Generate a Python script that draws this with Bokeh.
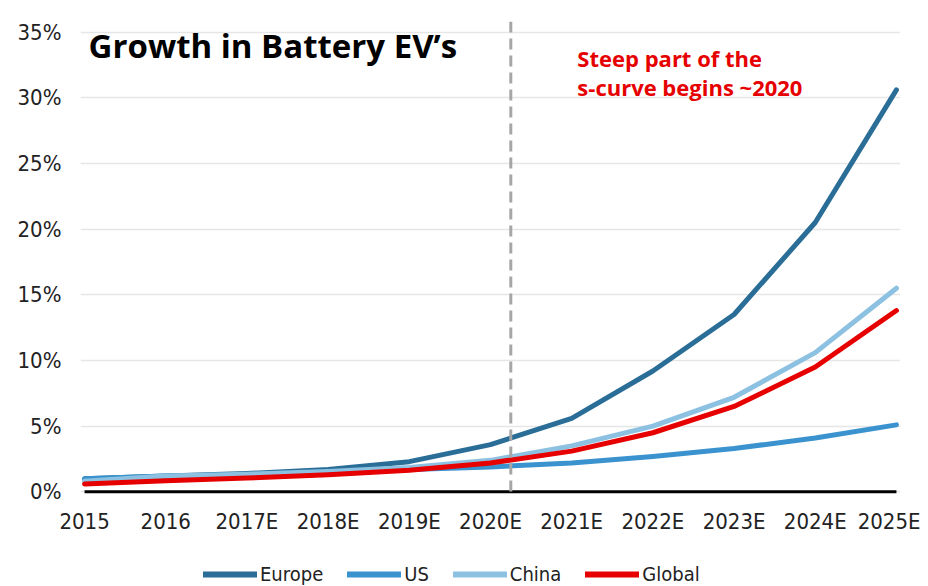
from bokeh.plotting import figure
from bokeh.layouts import column
from bokeh.models import (FixedTicker, Span, Legend, LegendItem, Label, Range1d)
from bokeh.embed import file_html
from bokeh.resources import INLINE

years = ["2015", "2016", "2017E", "2018E", "2019E", "2020E",
         "2021E", "2022E", "2023E", "2024E", "2025E"]
europe = [1.0, 1.2, 1.4, 1.7, 2.3, 3.6, 5.6, 9.2, 13.5, 20.5, 30.6]
us = [1.0, 1.2, 1.3, 1.5, 1.7, 1.9, 2.2, 2.7, 3.3, 4.1, 5.1]
china = [0.8, 1.2, 1.35, 1.55, 1.85, 2.4, 3.5, 5.0, 7.2, 10.6, 15.5]
global_ = [0.6, 0.85, 1.05, 1.3, 1.65, 2.2, 3.1, 4.5, 6.5, 9.5, 13.8]
y_ticks = [0, 5, 10, 15, 20, 25, 30, 35]

FONT = "Open Sans"
NARROW = "DejaVu Sans Condensed"
x = list(range(len(years)))

p = figure(width=920, height=545, output_backend="svg", toolbar_location=None,
           x_range=Range1d(-0.05, len(years) - 1 + 0.05),
           y_range=Range1d(-0.2, 35.8),
           min_border_left=80, min_border_right=20, min_border_top=21,
           min_border_bottom=51)
p.outline_line_color = None
p.background_fill_color = "white"

# axes
p.xaxis.ticker = FixedTicker(ticks=x)
p.xaxis.major_label_overrides = {i: y for i, y in enumerate(years)}
p.yaxis.ticker = FixedTicker(ticks=y_ticks)
p.yaxis.major_label_overrides = {t: f"{t}%" for t in y_ticks}
for ax in (p.xaxis[0], p.yaxis[0]):
    ax.axis_line_color = None
    ax.major_tick_line_color = None
    ax.minor_tick_line_color = None
    ax.major_tick_out = 0
    ax.major_tick_in = 0
    ax.minor_tick_out = 0
    ax.major_label_text_font = NARROW
    ax.major_label_text_font_size = "22px"
    ax.major_label_text_color = "#222222"
p.xaxis.major_label_standoff = 14
p.yaxis.major_label_standoff = 19
p.xgrid.grid_line_color = None
p.ygrid.grid_line_color = "#E6E6E6"
p.ygrid.grid_line_width = 1.5

# zero line
p.segment(x0=0, x1=len(years) - 1, y0=0, y1=0, line_color="black", line_width=3)

# dashed marker between 2020E and 2021E
p.add_layout(Span(location=5.25, dimension="height", line_color="#A6A6A6",
                  line_width=3, line_dash="11 6"))

series = [("Europe", europe, "#2A6E98"), ("US", us, "#3A93CF"),
          ("China", china, "#8DC1E1"), ("Global", global_, "#E60000")]

# legend lives in a small strip under the chart (its own lines kept out of view)
lg = figure(width=920, height=41, output_backend="svg", toolbar_location=None,
            x_range=Range1d(0, 1), y_range=Range1d(100, 101),
            min_border_left=0, min_border_right=0, min_border_top=0,
            min_border_bottom=0)
lg.axis.visible = False
lg.grid.visible = False
lg.outline_line_color = None

items = []
for name, vals, col in series:
    p.line(x, vals, line_color=col, line_width=5, line_cap="round", line_join="round")
    proxy = lg.line(x, vals, line_color=col, line_width=6, line_cap="round")
    items.append(LegendItem(label=name, renderers=[proxy]))

legend = Legend(items=items, orientation="horizontal", location=(123, 0),
                label_text_font=NARROW, label_text_font_size="20px",
                label_text_color="#222222",
                glyph_width=54, glyph_height=24, spacing=24, label_standoff=3,
                border_line_color=None, background_fill_alpha=0,
                padding=0, margin=0)
lg.add_layout(legend, "center")

p.add_layout(Label(x=0.05, y=34.0, text="Growth in Battery EV\u2019s",
                   text_font=FONT, text_font_style="bold", text_font_size="33px",
                   text_color="black", text_baseline="alphabetic"))
p.add_layout(Label(x=6.07, y=33.0, text="Steep part of the",
                   text_font=FONT, text_font_style="bold", text_font_size="22px",
                   text_color="#E60000", text_baseline="alphabetic"))
p.add_layout(Label(x=6.07, y=30.85, text="s-curve begins ~2020",
                   text_font=FONT, text_font_style="bold", text_font_size="22px",
                   text_color="#E60000", text_baseline="alphabetic"))

layout = column(p, lg, spacing=0)
open("out.html", "w").write(file_html(layout, INLINE))
